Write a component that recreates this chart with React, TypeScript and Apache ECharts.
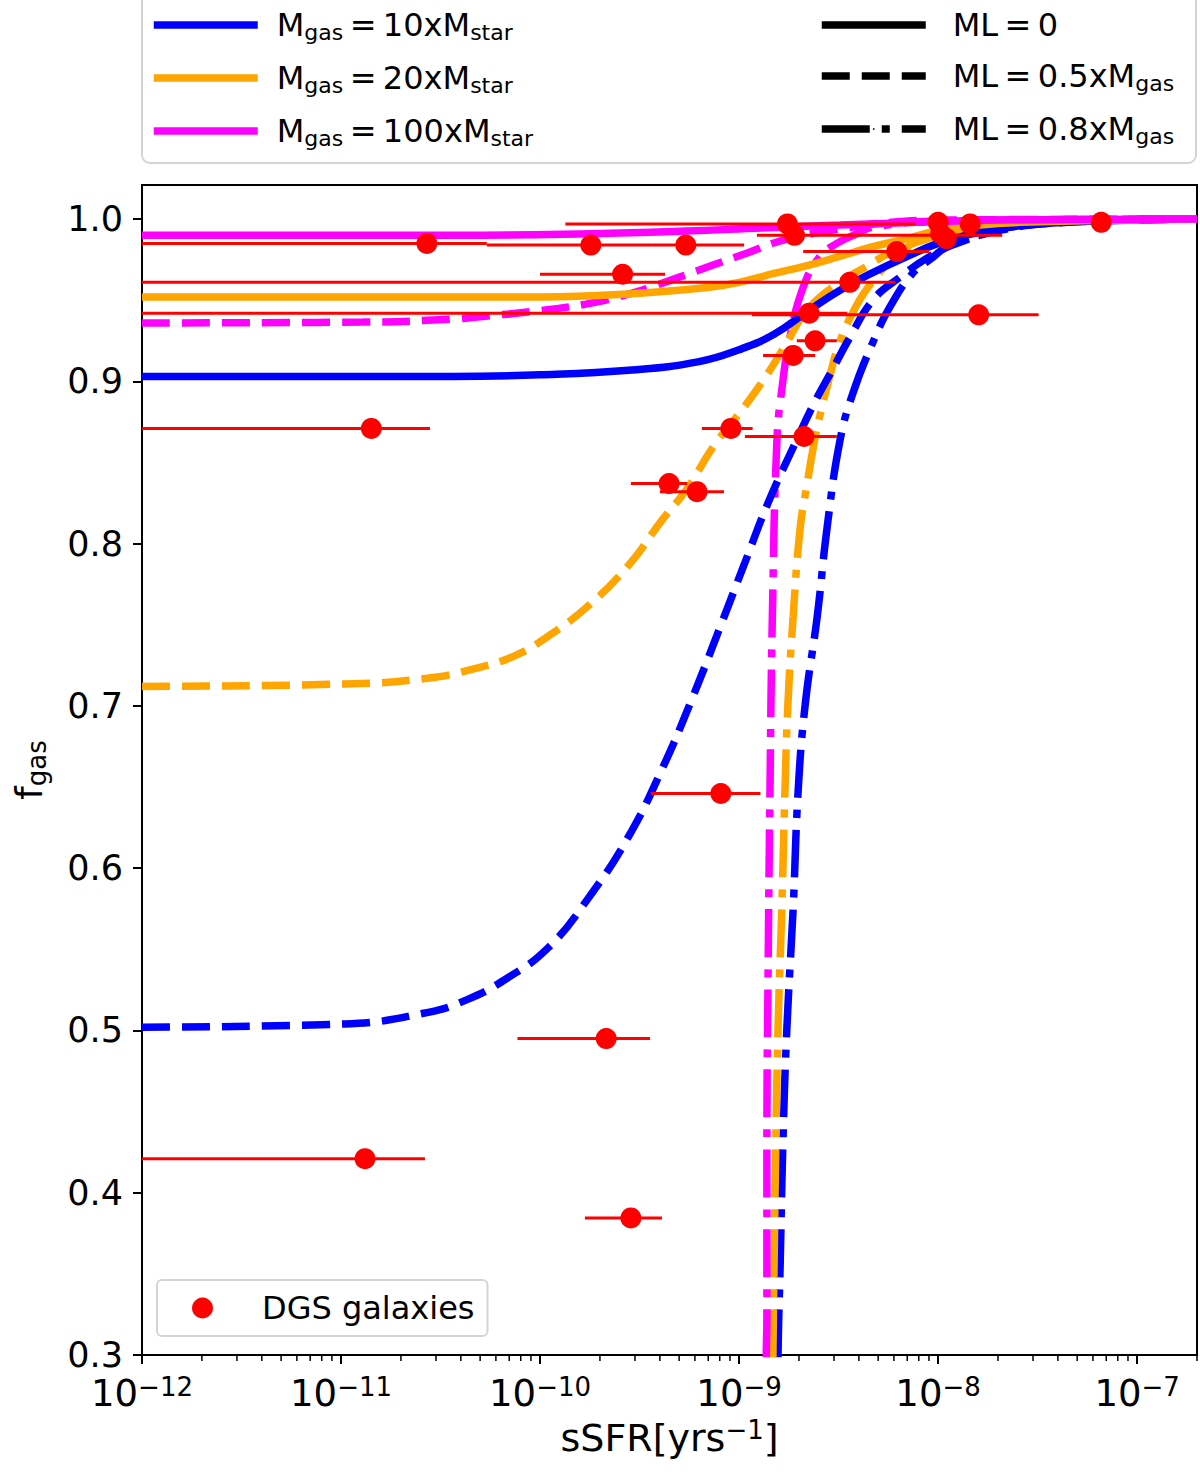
import { useEffect, useRef } from 'react';
import * as echarts from 'echarts';

const FONT = 'DejaVu Sans';
const BLUE = '#0000ff';
const ORANGE = '#ffa500';
const MAGENTA = '#ff00ff';
const RED = '#ff0000';

// estilos de línea tipo matplotlib (lw ~7.5px)
const DASHED = [28, 12];
const DASHDOT = [48, 12, 8, 12];

// ejes
const xDecades = [1e-12, 1e-11, 1e-10, 1e-9, 1e-8, 1e-7];
const yTicks = [0.3, 0.4, 0.5, 0.6, 0.7, 0.8, 0.9, 1.0];

// galaxias DGS: sSFR, f_gas y extremos de la barra de error en x
const galaxySSFR = [2.7e-11, 1.8e-10, 5.4e-10, 2.6e-10, 3.6e-9, 1.75e-9, 1.9e-9, 6.2e-9, 1.0e-8, 1.03e-8, 1.1e-8, 1.45e-8, 6.6e-8, 2.25e-9, 1.6e-8, 1.87e-9, 2.41e-9, 9.1e-10, 2.12e-9, 4.45e-10, 6.15e-10, 1.42e-11, 8.1e-10, 2.15e-10, 1.32e-11, 2.86e-10];
const galaxyFgas = [0.985, 0.984, 0.984, 0.966, 0.961, 0.997, 0.990, 0.980, 0.998, 0.991, 0.988, 0.997, 0.998, 0.942, 0.941, 0.916, 0.925, 0.871, 0.866, 0.837, 0.832, 0.871, 0.646, 0.495, 0.421, 0.3845];
const galaxyLow = [1e-12, 5.4e-11, 3.65e-10, 1.0e-10, 1e-12, 1.34e-10, 1.23e-9, 2.1e-9, 1.0e-8, 1.03e-8, 1.1e-8, 1.45e-8, 6.6e-8, 1e-12, 1.16e-9, 1.32e-9, 1.95e-9, 6.5e-10, 1.07e-9, 2.86e-10, 4.0e-10, 1e-12, 3.6e-10, 7.7e-11, 1e-12, 1.68e-10];
const galaxyHigh = [5.4e-11, 3.65e-10, 1.06e-9, 4.25e-10, 6.1e-9, 7.7e-9, 2.1e-8, 9.0e-9, 1.0e-8, 1.03e-8, 1.1e-8, 1.45e-8, 6.6e-8, 3.5e-9, 3.2e-8, 2.41e-9, 3.1e-9, 1.17e-9, 3.1e-9, 5.48e-10, 8.4e-10, 2.8e-11, 1.28e-9, 3.57e-10, 2.64e-11, 4.1e-10];

// modelos: Mgas = 10/20/100 x Mstar, ML = 0 / 0.5 / 0.8 x Mgas
const m10ml0: [number, number][] = [[1e-12, 0.903], [3.6e-11, 0.903], [1.0e-10, 0.904], [2.9e-10, 0.907], [6.2e-10, 0.912], [1.0e-9, 0.9195], [1.5e-9, 0.929], [2.2e-9, 0.943], [3.2e-9, 0.956], [4.7e-9, 0.967], [7.0e-9, 0.977], [1.0e-8, 0.985], [1.5e-8, 0.991], [2.6e-8, 0.996], [6.5e-8, 0.999], [2e-7, 1.0]];
const m20ml0: [number, number][] = [[1e-12, 0.952], [1.0e-10, 0.952], [2.9e-10, 0.954], [7.1e-10, 0.958], [1.0e-9, 0.961], [1.5e-9, 0.9665], [2.15e-9, 0.971], [3.2e-9, 0.977], [4.7e-9, 0.983], [7.0e-9, 0.988], [1.0e-8, 0.993], [1.5e-8, 0.996], [2.6e-8, 0.998], [2e-7, 1.0]];
const m100ml0: [number, number][] = [[1e-12, 0.990], [3.6e-11, 0.990], [1.8e-10, 0.991], [5.4e-10, 0.9926], [1.3e-9, 0.9945], [3.2e-9, 0.9963], [7.7e-9, 0.998], [2e-8, 0.9994], [2e-7, 1.0]];

const m10ml05: [number, number][] = [[1e-12, 0.502], [1.04e-11, 0.504], [2.7e-11, 0.511], [4.3e-11, 0.519], [6.8e-11, 0.532], [1.1e-10, 0.551], [1.76e-10, 0.582], [2.8e-10, 0.620], [4.1e-10, 0.661], [5.7e-10, 0.702], [8.0e-10, 0.748], [1.06e-9, 0.787], [1.42e-9, 0.827], [1.95e-9, 0.864], [2.35e-9, 0.885], [2.97e-9, 0.908], [3.6e-9, 0.927], [4.7e-9, 0.950], [6.4e-9, 0.964], [9.1e-9, 0.977], [1.24e-8, 0.985], [2.05e-8, 0.993], [3.7e-8, 0.9975], [2e-7, 1.0]];
const m20ml05: [number, number][] = [[1e-12, 0.712], [1.04e-11, 0.7135], [2.7e-11, 0.717], [4.7e-11, 0.723], [7.5e-11, 0.731], [1.1e-10, 0.743], [1.76e-10, 0.762], [2.8e-10, 0.787], [4.1e-10, 0.8145], [5.5e-10, 0.834], [7.4e-10, 0.8595], [1.05e-9, 0.8835], [1.38e-9, 0.904], [1.74e-9, 0.924], [2.2e-9, 0.944], [3.2e-9, 0.961], [4.4e-9, 0.971], [5.7e-9, 0.979], [8.4e-9, 0.987], [1.24e-8, 0.993], [2.05e-8, 0.997], [6.5e-8, 0.9994], [2e-7, 1.0]];
const m100ml05: [number, number][] = [[1e-12, 0.936], [1.29e-11, 0.9365], [3.6e-11, 0.9384], [6.1e-11, 0.9409], [7.8e-11, 0.9421], [1.7e-10, 0.9476], [2.9e-10, 0.9544], [4.0e-10, 0.960], [5.2e-10, 0.9649], [7.4e-10, 0.9717], [1.1e-9, 0.9791], [1.61e-9, 0.9865], [2.55e-9, 0.992], [3.74e-9, 0.9951], [5.1e-9, 0.9975], [1.02e-8, 0.9994], [2e-7, 1.0]];

const m10ml08: [number, number][] = [[1.55e-9, 0.2], [1.57e-9, 0.300], [1.61e-9, 0.357], [1.66e-9, 0.430], [1.74e-9, 0.502], [1.87e-9, 0.575], [1.98e-9, 0.647], [2.15e-9, 0.701], [2.47e-9, 0.755], [2.77e-9, 0.810], [3.22e-9, 0.864], [3.74e-9, 0.893], [4.7e-9, 0.924], [5.74e-9, 0.946], [7.5e-9, 0.967], [9.1e-9, 0.975], [1.11e-8, 0.983], [1.5e-8, 0.989], [2.6e-8, 0.996], [6.5e-8, 0.9994], [2e-7, 1.0]];
const m20ml08: [number, number][] = [[1.46e-9, 0.2], [1.48e-9, 0.300], [1.50e-9, 0.357], [1.53e-9, 0.430], [1.57e-9, 0.502], [1.64e-9, 0.575], [1.70e-9, 0.647], [1.76e-9, 0.701], [1.87e-9, 0.755], [2.03e-9, 0.810], [2.2e-9, 0.837], [2.35e-9, 0.858], [2.55e-9, 0.879], [2.87e-9, 0.904], [3.1e-9, 0.919], [3.61e-9, 0.939], [4.7e-9, 0.962], [6.2e-9, 0.977], [8.4e-9, 0.989], [1.24e-8, 0.995], [2.05e-8, 0.998], [2e-7, 1.0]];
const m100ml08: [number, number][] = [[1.36e-9, 0.2], [1.37e-9, 0.300], [1.38e-9, 0.322], [1.38e-9, 0.430], [1.40e-9, 0.5385], [1.43e-9, 0.647], [1.47e-9, 0.755], [1.55e-9, 0.864], [1.64e-9, 0.895], [1.80e-9, 0.927], [2.1e-9, 0.958], [2.55e-9, 0.977], [3.1e-9, 0.985], [3.92e-9, 0.991], [4.7e-9, 0.995], [1.02e-8, 0.9988], [2e-7, 1.0]];

// ticks menores del eje log (2..9 x 10^k)
const minorTicks: number[] = [];
for (let k = -12; k <= -7; k++) {
    for (let m = 2; m <= 9; m++) {
        const v = m * Math.pow(10, k);
        if (v <= 2e-7) minorTicks.push(v);
    }
}

const legendNames: Record<string, string> = {
    m10: '{n|M}{s|gas}{n|\u2009=\u200910xM}{s|star}',
    m20: '{n|M}{s|gas}{n|\u2009=\u200920xM}{s|star}',
    m100: '{n|M}{s|gas}{n|\u2009=\u2009100xM}{s|star}',
    ml0: '{n|ML\u2009=\u20090}',
    ml05: '{n|ML\u2009=\u20090.5xM}{s|gas}',
    ml08: '{n|ML\u2009=\u20090.8xM}{s|gas}'
};

const legendRich = {
    n: { fontSize: 32, lineHeight: 36, fontFamily: FONT, color: '#000' },
    s: { fontSize: 22, lineHeight: 16, verticalAlign: 'bottom', fontFamily: FONT, color: '#000' }
};

const curve = (name: string, data: [number, number][], color: string, type: any) => ({
    name,
    type: 'line',
    data,
    symbol: 'none',
    showSymbol: false,
    smooth: 0.45,
    silent: true,
    z: 2,
    lineStyle: { color, width: 7.5, type, cap: 'butt' },
    itemStyle: { color }
});

const legendSeries = (name: string, color: string, type: any) => ({
    name,
    type: 'line',
    data: [],
    symbol: 'none',
    lineStyle: { color, width: 7.5, type },
    itemStyle: { color }
});

const App = () => {
    const chartRef = useRef<HTMLDivElement>(null);

    useEffect(() => {
        if (!chartRef.current) return;
        const chart = echarts.init(chartRef.current, null, { renderer: 'svg' });

        const topLegend = (data: string[], left: number, textPad: number) => ({
            data,
            orient: 'vertical',
            left,
            top: 9,
            padding: 0,
            itemWidth: 104,
            itemHeight: 2,
            itemGap: 19,
            selectedMode: false,
            lineStyle: { width: 7.5 },
            formatter: (name: string) => legendNames[name],
            textStyle: { fontFamily: FONT, fontSize: 32, color: '#000', padding: [0, 0, 0, textPad], rich: legendRich }
        });

        const option: any = {
            animation: false,
            backgroundColor: '#fff',
            textStyle: { fontFamily: FONT },
            grid: {
                left: 142, right: 3, top: 185, bottom: 118,
                show: true, borderColor: '#000', borderWidth: 2, backgroundColor: 'transparent'
            },
            graphic: [{
                type: 'rect',
                z: 0,
                shape: { x: 142, y: -20, width: 1054, height: 183, r: 8 },
                style: { fill: '#fff', stroke: '#d4d4d4', lineWidth: 2 }
            }],
            legend: [
                topLegend(['m10', 'm20', 'm100'], 150, 14),
                topLegend(['ml0', 'ml05', 'ml08'], 818, 22),
                {
                    data: ['DGS galaxies'],
                    left: 157,
                    top: 1280,
                    padding: [10, 13, 10, 35],
                    itemWidth: 21,
                    itemHeight: 21,
                    selectedMode: false,
                    borderColor: '#d4d4d4',
                    borderWidth: 2,
                    borderRadius: 5,
                    backgroundColor: '#fff',
                    textStyle: { fontFamily: FONT, fontSize: 32, color: '#000', lineHeight: 36, padding: [0, 0, 0, 44] }
                }
            ],
            xAxis: {
                type: 'log',
                logBase: 10,
                min: 1e-12,
                max: 2e-7,
                splitLine: { show: false },
                axisLine: { onZero: false, lineStyle: { color: '#000', width: 2 } },
                axisTick: { length: 9, lineStyle: { color: '#000', width: 2 }, customValues: xDecades },
                axisLabel: {
                    customValues: xDecades,
                    margin: 19,
                    formatter: (v: number) => `{b|10}{s|\u2212${-Math.round(Math.log10(v))}}`,
                    rich: {
                        b: { fontSize: 37, lineHeight: 38, fontFamily: FONT, color: '#000' },
                        s: { fontSize: 26, lineHeight: 22, verticalAlign: 'top', fontFamily: FONT, color: '#000' }
                    }
                },
                name: '{b|sSFR[yrs}{s|\u22121}{b|]}',
                nameLocation: 'middle',
                nameGap: 62,
                nameTextStyle: {
                    rich: {
                        b: { fontSize: 38, lineHeight: 42, fontFamily: FONT, color: '#000' },
                        s: { fontSize: 26, lineHeight: 26, verticalAlign: 'top', fontFamily: FONT, color: '#000' }
                    }
                }
            },
            yAxis: {
                type: 'value',
                min: 0.3,
                max: 1.021,
                splitLine: { show: false },
                axisLine: { show: true, onZero: false, lineStyle: { color: '#000', width: 2 } },
                axisTick: { show: true, length: 9, lineStyle: { color: '#000', width: 2 }, customValues: yTicks },
                axisLabel: {
                    customValues: yTicks,
                    margin: 19,
                    fontSize: 35,
                    lineHeight: 28,
                    fontFamily: FONT,
                    color: '#000',
                    formatter: (v: number) => v.toFixed(1)
                },
                name: '{b|f}{s|gas}',
                nameLocation: 'middle',
                nameRotate: 90,
                nameGap: 92,
                nameTextStyle: {
                    rich: {
                        b: { fontSize: 38, lineHeight: 42, fontFamily: FONT, color: '#000' },
                        s: { fontSize: 26, lineHeight: 18, verticalAlign: 'bottom', fontFamily: FONT, color: '#000' }
                    }
                }
            },
            series: [
                curve('c-m10-ml08', m10ml08, BLUE, DASHDOT),
                curve('c-m20-ml08', m20ml08, ORANGE, DASHDOT),
                curve('c-m100-ml08', m100ml08, MAGENTA, DASHDOT),
                curve('c-m10-ml05', m10ml05, BLUE, DASHED),
                curve('c-m20-ml05', m20ml05, ORANGE, DASHED),
                curve('c-m100-ml05', m100ml05, MAGENTA, DASHED),
                curve('c-m10-ml0', m10ml0, BLUE, 'solid'),
                curve('c-m20-ml0', m20ml0, ORANGE, 'solid'),
                curve('c-m100-ml0', m100ml0, MAGENTA, 'solid'),
                legendSeries('m10', BLUE, 'solid'),
                legendSeries('m20', ORANGE, 'solid'),
                legendSeries('m100', MAGENTA, 'solid'),
                legendSeries('ml0', '#000', 'solid'),
                legendSeries('ml05', '#000', DASHED),
                legendSeries('ml08', '#000', DASHDOT),
                {
                    name: 'xerr',
                    type: 'custom',
                    silent: true,
                    z: 3,
                    encode: { x: [0, 1], y: 2 },
                    data: galaxySSFR.map((_, i) => [galaxyLow[i], galaxyHigh[i], galaxyFgas[i]]),
                    renderItem: (_params: any, api: any) => {
                        const y = api.value(2);
                        const a = api.coord([api.value(0), y]);
                        const b = api.coord([api.value(1), y]);
                        return {
                            type: 'line',
                            shape: { x1: a[0], y1: a[1], x2: b[0], y2: b[1] },
                            style: { stroke: RED, lineWidth: 3 }
                        };
                    }
                },
                {
                    name: 'DGS galaxies',
                    type: 'scatter',
                    z: 4,
                    symbol: 'circle',
                    symbolSize: 21,
                    itemStyle: { color: RED, opacity: 1 },
                    data: galaxySSFR.map((x, i) => [x, galaxyFgas[i]])
                },
                {
                    name: 'minor-ticks',
                    type: 'custom',
                    silent: true,
                    z: 5,
                    data: minorTicks.map((v) => [v, 0.3]),
                    renderItem: (_params: any, api: any) => {
                        const p = api.coord([api.value(0), 0.3]);
                        return {
                            type: 'line',
                            shape: { x1: p[0], y1: p[1], x2: p[0], y2: p[1] + 6 },
                            style: { stroke: '#000', lineWidth: 1.5 }
                        };
                    }
                }
            ]
        };

        chart.setOption(option);

        return () => {
            chart.dispose();
        };
    }, []);

    return (
        <div
            ref={chartRef}
            style={{ position: 'absolute', left: 0, top: 0, width: 1200, height: 1473 }}
        />
    );
};

export default App;
